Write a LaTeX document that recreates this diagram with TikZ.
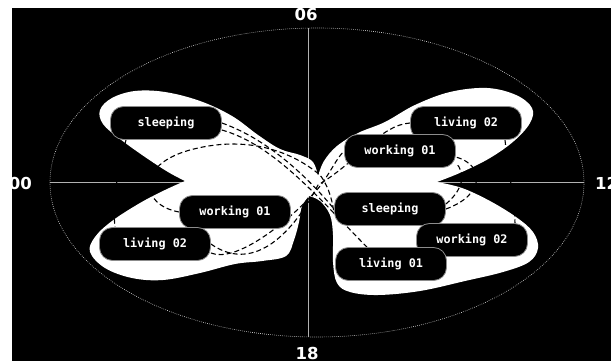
\documentclass[tikz,border=0pt]{standalone}
\usepackage{fontspec}
\newfontfamily\boxfont{DejaVu Sans Mono Bold}
\newfontfamily\hourfont{DejaVu Sans Bold}
\begin{document}
\begin{tikzpicture}[x=1pt,y=-1pt,
  actbox/.style={draw=white!55!black, line width=0.8pt, fill=black, text=white,
    rounded corners=13pt, minimum width=111pt, minimum height=33pt, inner sep=0pt,
    font=\boxfont\fontsize{11.8}{14}\selectfont},
  link/.style={draw=black, line width=1.1pt, dash pattern=on 5pt off 3pt},
  hour/.style={text=white, font=\hourfont\fontsize{16.5}{20}\selectfont, inner sep=0pt},
  axisline/.style={draw=white!70!black, line width=0.7pt},
  dial/.style={draw=white!85!black, line width=0.6pt, dash pattern=on 0.7pt off 1.3pt}]

\useasboundingbox (0,0) rectangle (611,361);
\fill[white] (0,0) rectangle (611,361);
\fill[black] (12,8) rectangle (611,361);

% clock dial and axes
\draw[dial] (317,182.5) ellipse [x radius=267pt, y radius=154.5pt];
\coordinate (h00) at (50,182);
\coordinate (h12) at (584,182);
\coordinate (h06) at (308,28);
\coordinate (h18) at (308,337);
\draw[axisline] (h00) -- (h12);
\draw[axisline] (h06) -- (h18);

\node[hour] (l06) at (306,14.5) {06};
\node[hour] (l18) at (307,353) {18};
\node[hour, anchor=east] (l00) at (32,183) {00};
\node[hour, anchor=west] (l12) at (595,183) {12};

% white four-winged region
\fill[white]
  plot[smooth, tension=0.6] coordinates {(185,181) (168,172) (145,157) (120,139) (103,124) (100,110) (112,98) (135,91) (165,92) (200,101) (232,116) (258,135) (280,149) (300,155) (313,162) (318,176)}
  -- plot[smooth, tension=0.6] coordinates {(318,176) (324,161) (337,146) (358,133) (385,122) (415,105) (450,92) (487,88) (516,95) (532,108) (530,123) (514,141) (490,158) (462,172) (437,182)}
  -- plot[smooth, tension=0.6] coordinates {(437,182) (462,188) (490,201) (516,217) (533,232) (538,248) (529,262) (503,272) (465,281) (420,291) (378,295) (350,292) (337,283) (333,262) (333,235) (330,215) (320,201) (309,196)}
  -- plot[smooth, tension=0.6] coordinates {(309,196) (302,206) (299,222) (294,240) (286,256) (262,261) (235,264) (200,273) (163,280) (132,278) (105,268) (90,252) (95,237) (112,221) (140,203) (165,190) (185,181)}
  -- cycle;

% activity boxes (placed first, drawn last)
\path
  (166,123) node[actbox, opacity=0] (sleepL) {sleeping}
  (466,123) node[actbox, opacity=0] (livR) {living 02}
  (400,151) node[actbox, opacity=0] (workR) {working 01}
  (390,209) node[actbox, opacity=0] (sleepR) {sleeping}
  (472,240) node[actbox, opacity=0] (workB) {working 02}
  (391,264) node[actbox, opacity=0] (livB) {living 01}
  (235,212) node[actbox, opacity=0] (workL) {working 01}
  (155,244) node[actbox, opacity=0] (livL) {living 02};

% transitions
\draw[link] (sleepL.east) .. controls (270,140) and (310,180) .. (sleepR.west);
\draw[link] ([yshift=-7pt]sleepL.east) .. controls (275,145) and (320,200) .. ([xshift=-24pt]livB.north);
\draw[link] (workL.west) .. controls (140,205) and (135,165) .. (190,150)
  .. controls (245,135) and (290,150) .. (320,175)
  .. controls (330,188) and (333,205) .. ([yshift=-5pt]sleepR.west);
\draw[link] (livL.east) .. controls (255,275) and (295,230) .. (318,185)
  .. controls (360,160) and (380,125) .. (livR.west);
\draw[link] ([yshift=-9pt]livL.east) .. controls (235,263) and (285,225) .. (315,192)
  .. controls (328,178) and (335,160) .. (workR.west);
\draw[link] (sleepR.east) .. controls (485,195) and (485,165) .. ([yshift=-6pt]workR.east);
\draw[link] ([yshift=5pt]sleepR.east) .. controls (465,188) and (465,172) .. ([yshift=-12pt]workR.east);
\draw[link] ([xshift=39pt]livR.south) .. controls (508,170) and (514,195) .. ([xshift=43pt]workB.north);
\draw[link] ([xshift=-40pt]sleepL.south) .. controls (118,170) and (112,200) .. ([xshift=-40pt]livL.north);

% visible boxes
\node[actbox] at (sleepL) {sleeping};
\node[actbox] at (livR) {living 02};
\node[actbox] at (workR) {working 01};
\node[actbox] at (sleepR) {sleeping};
\node[actbox] at (workB) {working 02};
\node[actbox] at (livB) {living 01};
\node[actbox] at (workL) {working 01};
\node[actbox] at (livL) {living 02};
\end{tikzpicture}
\end{document}
